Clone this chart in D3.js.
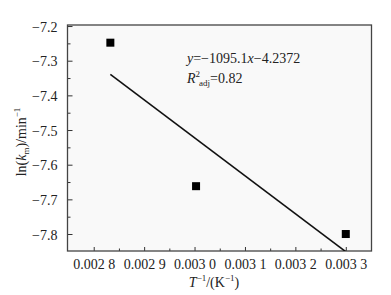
<!DOCTYPE html>
<html><head><meta charset="utf-8">
<script src="https://cdn.jsdelivr.net/npm/d3@7"></script>
<style>body{margin:0;background:#fff}svg{display:block}text{font-family:"Liberation Serif","Times New Roman",serif;fill:#222}</style>
</head><body>
<svg id="c" width="391" height="295"></svg>
<script>
const invT = [0.002833, 0.003003, 0.003300];
const lnK = [-7.248, -7.662, -7.800];
const fitSlope = -1095.1, fitIntercept = -4.2372;
const fitRange = [0.002833, 0.003300];
const xTicks = [0.0028, 0.0029, 0.0030, 0.0031, 0.0032, 0.0033];
const xTickLabels = ["0.002 8", "0.002 9", "0.003 0", "0.003 1", "0.003 2", "0.003 3"];
const xMinor = [0.00285, 0.00295, 0.00305, 0.00315, 0.00325];
const yTicks = [-7.2, -7.3, -7.4, -7.5, -7.6, -7.7, -7.8];
const yTickLabels = ["\u22127.2", "\u22127.3", "\u22127.4", "\u22127.5", "\u22127.6", "\u22127.7", "\u22127.8"];
const yMinor = [-7.25, -7.35, -7.45, -7.55, -7.65, -7.75];

const svg = d3.select("#c");
const L = 67.5, R = 371.5, T = 25, B = 251;
const x = d3.scaleLinear().domain([0.002748, 0.003351]).range([L, R]);
const y = d3.scaleLinear().domain([-7.849, -7.197]).range([B, T]);

svg.append("rect").attr("x", L).attr("y", T).attr("width", R - L).attr("height", B - T)
  .attr("fill", "#f9f9f9").attr("stroke", "none");

svg.append("defs").append("clipPath").attr("id", "clip").append("rect")
  .attr("x", L).attr("y", T).attr("width", R - L).attr("height", B - T);

// axes
const xAxis = d3.axisBottom(x).tickValues(xTicks).tickSizeInner(-4).tickSizeOuter(0)
  .tickFormat((d, i) => xTickLabels[i]).tickPadding(8);
const gx = svg.append("g").attr("transform", `translate(0,${B})`).call(xAxis);
const xMinorAxis = d3.axisBottom(x).tickValues(xMinor).tickSize(-2.5).tickFormat("");
const gxm = svg.append("g").attr("transform", `translate(0,${B})`).call(xMinorAxis);

const yAxis = d3.axisLeft(y).tickValues(yTicks).tickSizeInner(-5).tickSizeOuter(0)
  .tickFormat((d, i) => yTickLabels[i]).tickPadding(10);
const gy = svg.append("g").attr("transform", `translate(${L},0)`).call(yAxis);
const yMinorAxis = d3.axisLeft(y).tickValues(yMinor).tickSize(-3).tickFormat("");
const gym = svg.append("g").attr("transform", `translate(${L},0)`).call(yMinorAxis);

[gx, gxm, gy, gym].forEach(g => {
  g.select(".domain").remove();
  g.selectAll("line").attr("stroke", "#333").attr("stroke-width", 1);
  g.selectAll("text").attr("font-size", 14).attr("fill", "#222")
    .style("font-family", '"Liberation Serif","Times New Roman",serif');
});
gy.selectAll("text").attr("dy", "0.36em");
gx.selectAll("text").attr("dy", "0.71em");

// frame
svg.append("rect").attr("x", L).attr("y", T).attr("width", R - L).attr("height", B - T)
  .attr("fill", "none").attr("stroke", "#444").attr("stroke-width", 1.3);

// fit line
const fitPts = fitRange.map(v => [v, fitSlope * v + fitIntercept]);
svg.append("path").attr("clip-path", "url(#clip)")
  .attr("d", d3.line().x(d => x(d[0])).y(d => y(d[1]))(fitPts))
  .attr("stroke", "#111").attr("stroke-width", 1.6).attr("fill", "none");

// points
const s = 8;
svg.selectAll("rect.pt").data(invT.map((v, i) => [v, lnK[i]])).enter().append("rect")
  .attr("class", "pt")
  .attr("x", d => x(d[0]) - s / 2).attr("y", d => y(d[1]) - s / 2)
  .attr("width", s).attr("height", s).attr("fill", "#000");

// annotation
const a1 = svg.append("text").attr("x", 187).attr("y", 63).attr("font-size", 14);
a1.append("tspan").attr("font-style", "italic").text("y");
a1.append("tspan").text("=\u22121095.1");
a1.append("tspan").attr("font-style", "italic").text("x");
a1.append("tspan").text("\u22124.2372");

const a2 = svg.append("text").attr("x", 187).attr("y", 83).attr("font-size", 14);
a2.append("tspan").attr("font-style", "italic").text("R");
a2.append("tspan").attr("font-size", 9).attr("dy", -6).text("2");
a2.append("tspan").attr("font-size", 9).attr("dy", 9).attr("dx", -1).text("adj");
a2.append("tspan").attr("dy", -3).text("=0.82");

// x title
const xt = svg.append("text").attr("x", 214).attr("y", 287).attr("font-size", 14).attr("text-anchor", "middle");
xt.append("tspan").attr("font-style", "italic").text("T");
xt.append("tspan").attr("font-size", 9).attr("dy", -6).text("\u22121");
xt.append("tspan").attr("dy", 6).text("/(K");
xt.append("tspan").attr("font-size", 9).attr("dy", -6).text("\u22121");
xt.append("tspan").attr("dy", 6).text(")");

// y title
const yt = svg.append("text").attr("transform", "translate(26,142) rotate(-90)")
  .attr("font-size", 14).attr("text-anchor", "middle");
yt.append("tspan").text("ln(");
yt.append("tspan").attr("font-style", "italic").text("k");
yt.append("tspan").attr("font-size", 9).attr("dy", 3).text("m");
yt.append("tspan").attr("dy", -3).text(")/min");
yt.append("tspan").attr("font-size", 9).attr("dy", -6).text("\u22121");
</script>
</body></html>
